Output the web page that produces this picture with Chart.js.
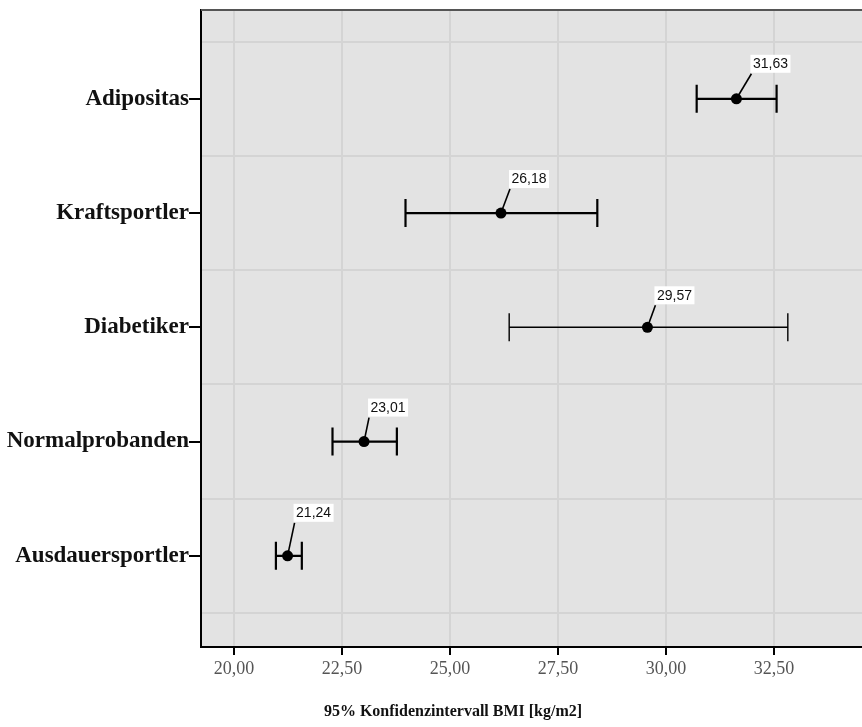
<!DOCTYPE html>
<html>
<head>
<meta charset="utf-8">
<script src="https://cdn.jsdelivr.net/npm/chart.js@4"></script>
<style>
  body { margin: 0; background: #fff; }
</style>
</head>
<body>
<canvas id="myErrorChart" width="862" height="727"></canvas>
<script>
// values

var categories = ["Adipositas", "Kraftsportler", "Diabetiker", "Normalprobanden", "Ausdauersportler"];
var means = [31.63, 26.18, 29.57, 23.01, 21.24];
var lower = [30.71, 23.97, 26.37, 22.28, 20.97];
var upper = [32.56, 28.41, 32.82, 23.77, 21.57];
var xTicks = [20, 22.5, 25, 27.5, 30, 32.5];
var axisTitle = "95% Konfidenzintervall BMI [kg/m2]";

// label box offsets from the point (left, bottom)
var labelOffsets = [[14, -26], [8, -25], [7, -23], [4, -25], [6, -34]];
var barWidths = [2.2, 2.2, 1.4, 2.2, 2.2];

function fmt(v) {
  return v.toFixed(2).replace(".", ",");
}

var points = [];
for (var i = 0; i < means.length; i++) points.push({ x: means[i], y: i });

var errorBars = {
  id: "errorBars",
  beforeDraw: function (chart) {
    var a = chart.chartArea, ctx = chart.ctx;
    ctx.save();
    ctx.fillStyle = "#e3e3e3";
    ctx.fillRect(a.left, a.top, a.right - a.left, a.bottom - a.top);
    ctx.restore();
  },
  beforeDatasetsDraw: function (chart) {
    var ctx = chart.ctx, xs = chart.scales.x, ys = chart.scales.y;
    ctx.save();
    ctx.strokeStyle = "#000";
    for (var i = 0; i < means.length; i++) {
      var y = ys.getPixelForValue(i);
      var x1 = xs.getPixelForValue(lower[i]);
      var x2 = xs.getPixelForValue(upper[i]);
      ctx.lineWidth = barWidths[i];
      ctx.beginPath();
      ctx.moveTo(x1, y); ctx.lineTo(x2, y);
      ctx.moveTo(x1, y - 14); ctx.lineTo(x1, y + 14);
      ctx.moveTo(x2, y - 14); ctx.lineTo(x2, y + 14);
      ctx.stroke();
    }
    ctx.restore();
  },
  afterDatasetsDraw: function (chart) {
    var ctx = chart.ctx, xs = chart.scales.x, ys = chart.scales.y;
    ctx.save();
    ctx.font = "14px 'Liberation Sans', Arial, sans-serif";
    ctx.textBaseline = "middle";
    for (var i = 0; i < means.length; i++) {
      var px = xs.getPixelForValue(means[i]);
      var py = ys.getPixelForValue(i);
      var txt = fmt(means[i]);
      var w = ctx.measureText(txt).width + 5;
      var left = px + labelOffsets[i][0];
      var bottom = py + labelOffsets[i][1];
      ctx.fillStyle = "#fff";
      ctx.fillRect(left, bottom - 18, w, 18);
      ctx.fillStyle = "#111";
      ctx.fillText(txt, left + 2.5, bottom - 8.5);
      ctx.strokeStyle = "#000";
      ctx.lineWidth = 1.6;
      ctx.beginPath();
      ctx.moveTo(px, py);
      ctx.lineTo(left + 1, bottom + 1);
      ctx.stroke();
    }
    ctx.restore();
  },
  afterDraw: function (chart) {
    var a = chart.chartArea, ctx = chart.ctx;
    ctx.save();
    ctx.strokeStyle = "#555";
    ctx.lineWidth = 2;
    ctx.beginPath();
    ctx.moveTo(a.left, a.top);
    ctx.lineTo(a.right, a.top);
    ctx.stroke();
    ctx.fillStyle = "#111";
    ctx.font = "bold 16px 'Liberation Serif', 'Times New Roman', serif";
    ctx.textAlign = "center";
    ctx.textBaseline = "middle";
    ctx.fillText(axisTitle, 453, 712);
    ctx.restore();
  }
};

var canvasError = document.getElementById("myErrorChart");
var myErrorChart = new Chart(canvasError, {
  type: "scatter",
  data: {
    datasets: [
      {
        data: points,
        pointRadius: 5.5,
        pointHoverRadius: 5.5,
        backgroundColor: "#000",
        borderWidth: 0,
        showLine: false
      }
    ]
  },
  options: {
    responsive: false,
    animation: false,
    layout: { autoPadding: false, padding: { top: 10, right: 0, left: 0, bottom: 0 } },
    plugins: {
      legend: { display: false },
      tooltip: { enabled: false }
    },
    scales: {
      x: {
        type: "linear",
        min: 19.236,
        max: 34.537,
        afterBuildTicks: function (s) {
          s.ticks = xTicks.map(function (v) { return { value: v }; });
        },
        afterFit: function (s) {
          s.height = 80;
          s.paddingLeft = 0;
          s.paddingRight = 0;
        },
        ticks: {
          autoSkip: false,
          maxRotation: 0,
          padding: 3,
          color: "#555",
          font: { family: "'Liberation Serif', 'Times New Roman', serif", size: 18 },
          callback: function (v) { return fmt(v); }
        },
        grid: { color: "#d4d4d4", lineWidth: 2, tickColor: "#000", tickLength: 8, tickWidth: 2 },
        border: { color: "#000", width: 2 }
      },
      y: {
        type: "linear",
        reverse: true,
        min: -0.777,
        max: 4.798,
        afterBuildTicks: function (s) {
          var t = [];
          for (var v = -0.5; v <= 4.5; v += 0.5) t.push({ value: v });
          s.ticks = t;
        },
        afterFit: function (s) {
          s.width = 201;
          s.paddingTop = 0;
          s.paddingBottom = 0;
        },
        ticks: {
          autoSkip: false,
          padding: 0,
          color: "#111",
          font: { family: "'Liberation Serif', 'Times New Roman', serif", size: 23, weight: "bold" },
          callback: function (v) { return Number.isInteger(v) ? categories[v] : ""; }
        },
        grid: {
          lineWidth: 2,
          color: function (c) { return Number.isInteger(c.tick.value) ? "rgba(0,0,0,0)" : "#d4d4d4"; },
          tickColor: function (c) { return Number.isInteger(c.tick.value) ? "#000" : "rgba(0,0,0,0)"; },
          tickLength: 12,
          tickWidth: 2
        },
        border: { color: "#000", width: 2 }
      }
    }
  },
  plugins: [errorBars]
});
</script>
</body>
</html>
